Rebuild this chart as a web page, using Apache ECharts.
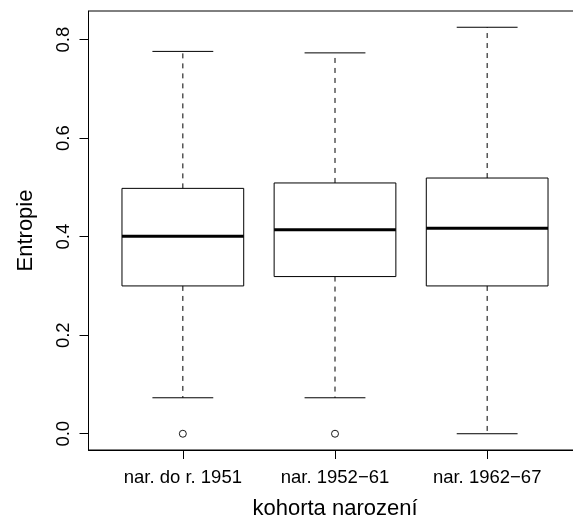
<!DOCTYPE html>
<html>
<head>
<meta charset="utf-8">
<script src="https://cdn.jsdelivr.net/npm/echarts@6/dist/echarts.min.js"></script>
<style>
  html, body { margin: 0; padding: 0; background: #fff; }
  #chart { width: 573px; height: 523px; }
</style>
</head>
<body>
<div id="chart"></div>
<script>
// Entropy by birth cohort: five-number summaries per group
const categories = ['nar. do r. 1951', 'nar. 1952\u221261', 'nar. 1962\u221267'];
const lowerWhisker = [0.073, 0.073, 0.000];
const lowerQuartile = [0.300, 0.319, 0.300];
const medians = [0.401, 0.414, 0.417];
const upperQuartile = [0.498, 0.509, 0.519];
const upperWhisker = [0.776, 0.773, 0.825];
// outlying points: group number (1-based) and value
const outlierGroup = [1, 2];
const outlierValue = [0.0, 0.0];
const yTicks = [0, 0.2, 0.4, 0.6, 0.8];
const xTicks = [1, 2, 3];

const FONT = "'Liberation Sans', Arial, Helvetica, sans-serif";
const Y_MIN = -0.033, Y_MAX = 0.858;
const BOX_HALF = 0.4;   // half box width in axis units
const CAP_HALF = 0.2;   // half whisker-cap width
const TICK_LEN = 9;

const boxData = categories.map((c, i) => [
  i + 1, lowerWhisker[i], lowerQuartile[i], medians[i], upperQuartile[i], upperWhisker[i]
]);
const outlierData = outlierGroup.map((g, i) => [g, outlierValue[i]]);

function renderBox(params, api) {
  const x = api.value(0);
  const lo = api.value(1), q1 = api.value(2), md = api.value(3), q3 = api.value(4), hi = api.value(5);
  const p = (vx, vy) => api.coord([vx, vy]);
  const line = (a, b, style) => ({
    type: 'line',
    shape: { x1: a[0], y1: a[1], x2: b[0], y2: b[1] },
    style: Object.assign({ stroke: '#000', lineWidth: 1 }, style)
  });
  const tl = p(x - BOX_HALF, q3), br = p(x + BOX_HALF, q1);
  return {
    type: 'group',
    children: [
      line(p(x, q3), p(x, hi), { lineDash: [5, 5] }),
      line(p(x, q1), p(x, lo), { lineDash: [5, 5] }),
      line(p(x - CAP_HALF, hi), p(x + CAP_HALF, hi), {}),
      line(p(x - CAP_HALF, lo), p(x + CAP_HALF, lo), {}),
      {
        type: 'rect',
        shape: { x: tl[0], y: tl[1], width: br[0] - tl[0], height: br[1] - tl[1] },
        style: { fill: 'none', stroke: '#000', lineWidth: 1 }
      },
      line(p(x - BOX_HALF, md), p(x + BOX_HALF, md), { lineWidth: 3 })
    ]
  };
}

const chart = echarts.init(document.getElementById('chart'), null, { renderer: 'canvas' });
chart.setOption({
  animation: false,
  backgroundColor: '#fff',
  grid: {
    left: 88.5, top: 11, width: 493, height: 439,
    outerBoundsMode: 'none',
    containLabel: false,
    show: true, borderColor: '#000', borderWidth: 1, backgroundColor: 'transparent'
  },
  xAxis: {
    type: 'value',
    position: 'bottom',
    min: 0.38, max: 3.62,
    splitLine: { show: false },
    axisLine: { show: true, onZero: false, lineStyle: { color: '#000', width: 1 } },
    axisTick: { show: true, length: TICK_LEN, inside: false, customValues: xTicks, lineStyle: { color: '#000', width: 1 } },
    axisLabel: {
      customValues: xTicks,
      formatter: v => categories[Math.round(v) - 1] || '',
      fontFamily: FONT, fontSize: 18.5, color: '#000', margin: 18
    },
    name: 'kohorta narození',
    nameLocation: 'middle',
    nameGap: 48,
    nameTextStyle: { fontFamily: FONT, fontSize: 22, color: '#000' }
  },
  yAxis: {
    type: 'value',
    position: 'left',
    min: Y_MIN, max: Y_MAX,
    splitLine: { show: false },
    axisLine: { show: true, onZero: false, lineStyle: { color: '#000', width: 1 } },
    axisTick: { show: true, length: TICK_LEN, customValues: yTicks, lineStyle: { color: '#000', width: 1 } },
    axisLabel: {
      customValues: yTicks,
      rotate: 90,
      formatter: v => v.toFixed(1),
      fontFamily: FONT, fontSize: 18.5, color: '#000', margin: 15
    },
    name: 'Entropie',
    nameLocation: 'middle',
    nameRotate: 90,
    nameGap: 52,
    nameTextStyle: { fontFamily: FONT, fontSize: 22, color: '#000' }
  },
  series: [
    {
      type: 'custom',
      renderItem: renderBox,
      data: boxData,
      encode: { x: 0, y: [1, 2, 3, 4, 5] },
      clip: false,
      silent: true
    },
    {
      type: 'scatter',
      data: outlierData,
      symbol: 'circle',
      symbolSize: 7,
      itemStyle: { color: '#fff', borderColor: '#000', borderWidth: 0.9, opacity: 1 },
      silent: true
    }
  ]
});
</script>
</body>
</html>
